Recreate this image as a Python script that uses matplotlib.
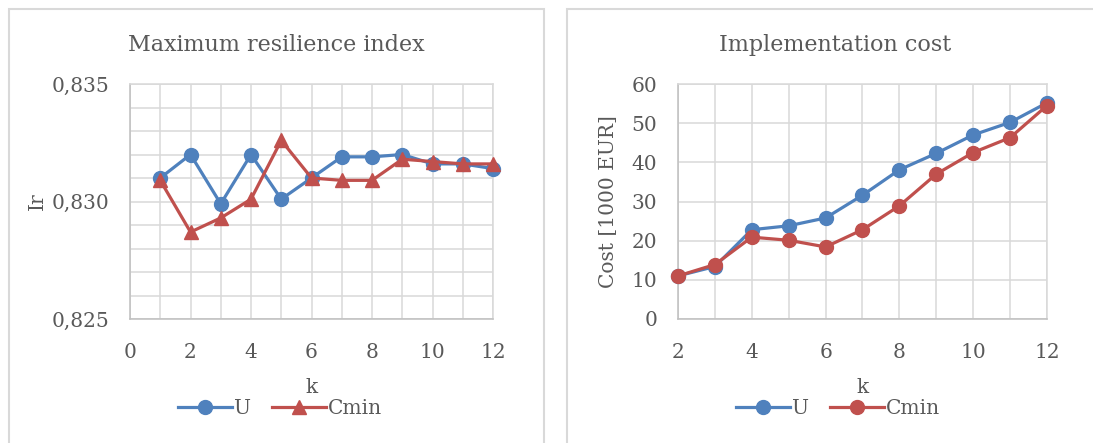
import matplotlib.pyplot as plt
from matplotlib.patches import Rectangle
from matplotlib.ticker import MultipleLocator, FuncFormatter

# data
k_left = [1, 2, 3, 4, 5, 6, 7, 8, 9, 10, 11, 12]
ir_u = [0.8310, 0.8320, 0.8299, 0.8320, 0.8301, 0.8310, 0.8319, 0.8319, 0.8320, 0.8316, 0.8316, 0.8314]
ir_cmin = [0.8309, 0.8287, 0.8293, 0.8301, 0.8326, 0.8310, 0.8309, 0.8309, 0.8318, 0.8317, 0.8316, 0.8316]

k_right = [2, 3, 4, 5, 6, 7, 8, 9, 10, 11, 12]
cost_u = [11.0, 13.4, 22.8, 23.8, 25.8, 31.6, 38.1, 42.3, 47.0, 50.2, 55.2]
cost_cmin = [11.0, 13.9, 20.9, 20.1, 18.4, 22.8, 28.9, 37.0, 42.5, 46.3, 54.5]

BLUE = '#4F81BD'
RED = '#C0504D'
TXT = '#595959'
GRID = '#D9D9D9'

plt.rcParams['font.family'] = ['DejaVu Serif']
plt.rcParams['text.color'] = TXT

W, H = 1093, 443
fig = plt.figure(figsize=(W / 100, H / 100), dpi=100)

# panel frames
fig.patches.append(Rectangle((9 / W, -0.1), (544 - 9) / W, 1.1 - 9 / H, transform=fig.transFigure,
                             fill=False, edgecolor=GRID, lw=1.5))
fig.patches.append(Rectangle((567 / W, -0.1), 0.6, 1.1 - 9 / H, transform=fig.transFigure,
                             fill=False, edgecolor=GRID, lw=1.5))


def style(ax):
    ax.grid(True, which='both', color=GRID, lw=1.1)
    ax.set_axisbelow(True)
    for s in ax.spines.values():
        s.set_color(GRID)
        s.set_linewidth(1.1)
    ax.spines['bottom'].set_color('#BFBFBF')
    ax.spines['left'].set_color('#BFBFBF')
    ax.tick_params(which='both', length=0, colors=TXT, labelsize=14.5)
    ax.tick_params(axis='x', pad=17)
    ax.tick_params(axis='y', pad=15)


# left chart
ax1 = fig.add_axes([130 / W, 1 - 319 / H, (493 - 130) / W, (319 - 84) / H])
ax1.plot(k_left, ir_u, color=BLUE, lw=2.3, marker='o', ms=10, label='U', clip_on=False, zorder=3)
ax1.plot(k_left, ir_cmin, color=RED, lw=2.3, marker='^', ms=10, label='Cmin', clip_on=False, zorder=4)
ax1.set_xlim(0, 12)
ax1.set_ylim(0.825, 0.835)
ax1.xaxis.set_major_locator(MultipleLocator(2))
ax1.xaxis.set_minor_locator(MultipleLocator(1))
ax1.yaxis.set_major_locator(MultipleLocator(0.005))
ax1.yaxis.set_minor_locator(MultipleLocator(0.001))
ax1.yaxis.set_major_formatter(FuncFormatter(lambda v, p: f'{v:.3f}'.replace('.', ',')))
style(ax1)
ax1.set_xlabel('k', fontsize=14.5, color=TXT, labelpad=12)
ax1.set_ylabel('Ir', fontsize=14.5, color=TXT, labelpad=3.5)
fig.text(276 / W, 1 - 45 / H, 'Maximum resilience index', fontsize=16, color=TXT, ha='center', va='center')
fig.legend(*ax1.get_legend_handles_labels(), loc='center', bbox_to_anchor=(280 / W, 1 - 409 / H),
           ncol=2, frameon=False, fontsize=14.5, handlelength=2.7, columnspacing=1.0, handletextpad=0.1)

# right chart
ax2 = fig.add_axes([678 / W, 1 - 319 / H, (1047 - 678) / W, (319 - 84) / H])
ax2.plot(k_right, cost_u, color=BLUE, lw=2.3, marker='o', ms=10, label='U', clip_on=False, zorder=3)
ax2.plot(k_right, cost_cmin, color=RED, lw=2.3, marker='o', ms=10, label='Cmin', clip_on=False, zorder=4)
ax2.set_xlim(2, 12)
ax2.set_ylim(0, 60)
ax2.xaxis.set_major_locator(MultipleLocator(2))
ax2.xaxis.set_minor_locator(MultipleLocator(1))
ax2.yaxis.set_major_locator(MultipleLocator(10))
style(ax2)
ax2.set_xlabel('k', fontsize=14.5, color=TXT, labelpad=12)
ax2.set_ylabel('Cost [1000 EUR]', fontsize=14.5, color=TXT, labelpad=10)
fig.text(835 / W, 1 - 45 / H, 'Implementation cost', fontsize=16, color=TXT, ha='center', va='center')
fig.legend(*ax2.get_legend_handles_labels(), loc='center', bbox_to_anchor=(838 / W, 1 - 409 / H),
           ncol=2, frameon=False, fontsize=14.5, handlelength=2.7, columnspacing=1.0, handletextpad=0.1)

fig.savefig('out.png', dpi=100)
